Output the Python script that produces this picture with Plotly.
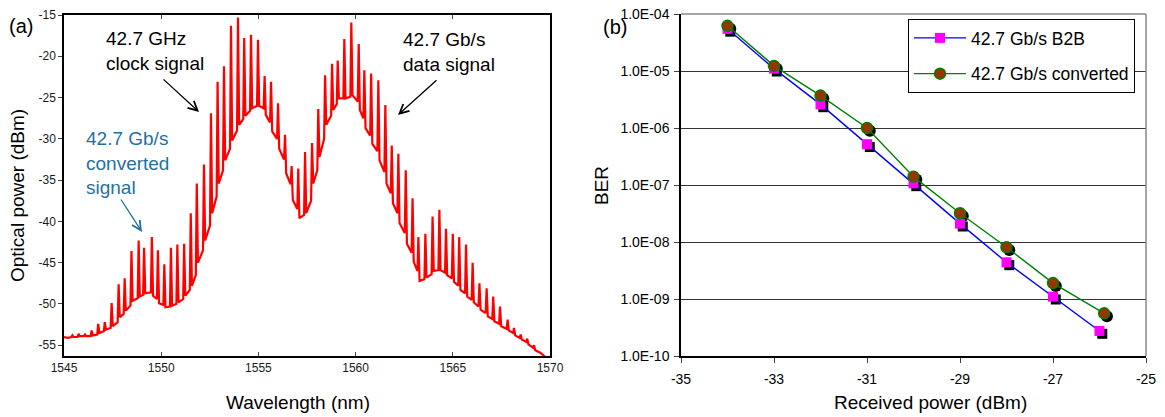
import plotly.graph_objects as go

# ---------------- (a) optical spectrum ----------------
# comb-line peaks
peak_wl = [1545.43, 1545.75, 1546.08, 1546.42, 1546.76, 1547.10, 1547.45, 1547.81, 1548.12, 1548.47,
           1548.84, 1549.12, 1549.52, 1549.83, 1550.16, 1550.50, 1550.83, 1551.18, 1551.52, 1551.83,
           1552.20, 1552.56, 1552.90, 1553.23, 1553.59, 1553.95, 1554.27, 1554.62, 1554.98, 1555.32,
           1555.65, 1556.01, 1556.37, 1556.71, 1557.05, 1557.40, 1557.76, 1558.08, 1558.43, 1558.79,
           1559.08, 1559.42, 1559.78, 1560.16, 1560.45, 1560.80, 1561.17, 1561.53, 1561.86, 1562.20,
           1562.58, 1562.93, 1563.23, 1563.59, 1563.96, 1564.31, 1564.65, 1565.00, 1565.33, 1565.68,
           1566.02, 1566.37, 1566.74, 1567.08, 1567.43, 1567.82, 1568.15, 1568.49, 1568.83, 1569.18]
peak_db = [-53.8, -53.6, -53.7, -53.2, -52.4, -52.2, -49.9, -47.6, -46.9, -43.6,
           -42.3, -43.2, -41.9, -43.5, -45.2, -43.2, -42.8, -42.7, -39.0, -35.4,
           -33.1, -26.9, -23.1, -21.2, -16.3, -15.3, -17.8, -17.4, -18.0, -22.4,
           -23.1, -25.7, -29.5, -33.3, -33.6, -31.6, -30.5, -26.4, -22.3, -20.9,
           -20.5, -17.9, -15.9, -18.5, -21.7, -22.1, -22.9, -25.9, -30.8, -31.8,
           -33.8, -37.2, -41.9, -41.5, -39.4, -38.6, -40.9, -41.5, -41.9, -42.8,
           -45.0, -47.5, -48.1, -49.1, -50.3, -51.9, -52.9, -53.7, -54.2, -55.0]
# level at the foot just before each peak
foot_db = [-54.0, -54.0, -53.9, -53.9, -53.7, -53.3, -52.9, -52.2, -51.2, -50.2,
           -49.3, -48.9, -48.6, -49.4, -50.1, -50.3, -50.0, -49.4, -48.3, -46.5,
           -43.5, -40.5, -37.0, -33.8, -31.2, -29.0, -27.6, -26.6, -26.0, -26.3,
           -28.0, -30.0, -32.5, -35.5, -38.5, -39.2, -37.5, -33.8, -30.0, -27.2,
           -25.8, -25.1, -24.9, -25.5, -27.5, -29.6, -31.5, -34.0, -36.6, -39.0,
           -41.4, -43.8, -46.0, -47.0, -46.4, -45.9, -46.2, -46.9, -47.8, -48.7,
           -49.5, -50.3, -51.1, -51.8, -52.4, -53.0, -53.5, -54.1, -54.6, -55.3]
# level just after each peak
after_db = [-54.0, -53.9, -53.9, -53.8, -53.5, -53.1, -52.7, -51.6, -50.8, -49.6,
            -49.1, -48.7, -49.0, -49.9, -50.4, -50.2, -49.8, -49.0, -47.8, -45.0,
            -42.3, -39.0, -35.4, -32.6, -30.2, -28.3, -27.2, -26.3, -26.0, -27.1,
            -29.1, -31.2, -34.2, -37.4, -39.6, -39.0, -35.4, -32.2, -28.3, -26.5,
            -25.1, -25.1, -24.7, -26.5, -28.7, -30.6, -32.6, -35.4, -37.8, -40.2,
            -42.7, -44.9, -47.2, -46.8, -46.0, -45.9, -46.5, -47.3, -48.3, -49.1,
            -49.8, -50.7, -51.5, -52.1, -52.7, -53.2, -53.8, -54.3, -54.9, -55.6]
start_wl = [1545.0, 1545.2]
start_db = [-54.0, -54.1]
end_wl = [1569.5, 1569.75, 1570.0]
end_db = [-55.9, -56.4, -56.7]

x_ticks_a = [1545, 1550, 1555, 1560, 1565, 1570]
y_ticks_a = [-55, -50, -45, -40, -35, -30, -25, -20, -15]
y_ticktext_a = ["-55", "-50", "-45", "-40", "-35", "-30", "-25", "-20", "-15"]

# ---------------- (b) BER curves ----------------
rx_b2b = [-34, -33, -32, -31, -30, -29, -28, -27, -26]
ber_b2b = [5.5e-5, 1.1e-5, 2.6e-6, 5.2e-7, 1.07e-7, 2.1e-8, 4.4e-9, 1.1e-9, 2.75e-10]
rx_conv = [-34, -33, -32, -31, -30, -29, -28, -27, -25.9]
ber_conv = [6.2e-5, 1.23e-5, 3.7e-6, 1.0e-6, 1.4e-7, 3.2e-8, 8.1e-9, 1.9e-9, 5.6e-10]
ber_tickvals = [1e-10, 1e-9, 1e-8, 1e-7, 1e-6, 1e-5, 1e-4]
ber_ticktext = ["1.0E-10", "1.0E-09", "1.0E-08", "1.0E-07", "1.0E-06", "1.0E-05", "1.0E-04"]
rx_ticks = [-35, -33, -31, -29, -27, -25]
rx_ticktext = ["-35", "-33", "-31", "-29", "-27", "-25"]

W, H = 1165, 417
FONT = "Arial, Liberation Sans, sans-serif"

# build spectrum polyline (foot -> peak -> after, per comb line)
spec_wl = list(start_wl)
spec_db = list(start_db)
for pw, pdb, fdb, adb in zip(peak_wl, peak_db, foot_db, after_db):
    spec_wl += [pw - 0.05, pw, pw + 0.06]
    spec_db += [fdb, pdb, adb]
spec_wl += end_wl
spec_db += end_db

fig = go.Figure()
fig.add_trace(go.Scatter(x=spec_wl, y=spec_db, mode="lines",
                         line=dict(color="#FF0000", width=2.2), showlegend=False,
                         xaxis="x", yaxis="y"))

# marker shadows (offset slightly right / down)
fig.add_trace(go.Scatter(x=[v + 0.06 for v in rx_b2b], y=[v * 10 ** -0.05 for v in ber_b2b],
                         mode="markers", marker=dict(symbol="square", size=10, color="black"),
                         showlegend=False, xaxis="x2", yaxis="y2", hoverinfo="skip"))
fig.add_trace(go.Scatter(x=[v + 0.06 for v in rx_conv], y=[v * 10 ** -0.05 for v in ber_conv],
                         mode="markers", marker=dict(symbol="circle", size=12, color="black"),
                         showlegend=False, xaxis="x2", yaxis="y2", hoverinfo="skip"))
fig.add_trace(go.Scatter(x=rx_b2b, y=ber_b2b, mode="lines+markers", name="42.7 Gb/s B2B",
                         line=dict(color="#0000FF", width=1.4),
                         marker=dict(symbol="square", size=10, color="#FF00FF"),
                         legendgroup="a", xaxis="x2", yaxis="y2"))
fig.add_trace(go.Scatter(x=rx_conv, y=ber_conv, mode="lines+markers", name="42.7 Gb/s converted",
                         line=dict(color="#008000", width=1.4),
                         marker=dict(symbol="circle", size=11, color="#993300",
                                     line=dict(color="#008000", width=1.5)),
                         legendgroup="b", xaxis="x2", yaxis="y2"))

def px(x):
    return x / W

def py(y):
    return 1 - y / H

domA_x = [px(64), px(550)]
domB_x = [px(681), px(1146)]
dom_y = [py(356), py(15)]
domB_y = [py(356), py(14)]

ann = []
def text(t, x, y, size, color="black", angle=0, xanchor="center", align="center"):
    ann.append(dict(text=t, x=px(x), y=py(y), xref="paper", yref="paper", showarrow=False,
                    font=dict(family=FONT, size=size, color=color), textangle=angle,
                    xanchor=xanchor, yanchor="middle", align=align))

def arrow(hx, hy, tx, ty, color):
    ann.append(dict(text="", x=px(hx), y=py(hy), xref="paper", yref="paper",
                    ax=tx - hx, ay=ty - hy, axref="pixel", ayref="pixel", showarrow=True,
                    arrowhead=5, arrowsize=1.4, arrowwidth=1.3, arrowcolor=color))

text("(a)", 21, 26, 20)
text("(b)", 615, 27, 20)
text("42.7 GHz<br>clock signal", 104, 51, 19, xanchor="left", align="left")
text("42.7 Gb/s<br>data signal", 401, 52, 19, xanchor="left", align="left")
text("42.7 Gb/s<br>converted<br>signal", 84, 163, 19, color="#1F70A3", xanchor="left", align="left")
arrow(199, 112, 162, 78, "black")
arrow(398, 115, 438, 79, "black")
arrow(142, 232, 120, 198, "#1F70A3")
text("Optical power (dBm)", 18, 196, 19, angle=-90)
text("Wavelength (nm)", 298, 402, 19)
text("BER", 601, 186, 19, angle=-90)
text("Received power (dBm)", 930, 402, 19)

tickfontA = dict(family=FONT, size=12, color="#1a1a1a")
tickfontB = dict(family=FONT, size=14, color="black")

fig.update_layout(
    width=W, height=H, margin=dict(l=0, r=0, t=0, b=0, autoexpand=False),
    paper_bgcolor="white", plot_bgcolor="white",
    font=dict(family=FONT),
    xaxis=dict(domain=domA_x, range=[1545, 1570], tickvals=x_ticks_a, ticks="inside", ticklen=4,
               showline=True, linecolor="black", linewidth=1.5, mirror="ticks", showgrid=False,
               zeroline=False, tickfont=tickfontA, anchor="y", automargin=False),
    yaxis=dict(domain=dom_y, range=[-56.3, -15], tickvals=y_ticks_a, ticktext=y_ticktext_a,
               ticks="outside", ticklen=4,
               showline=True, linecolor="black", linewidth=1.5, mirror=True, showgrid=False,
               zeroline=False, tickfont=tickfontA, anchor="x", automargin=False),
    yaxis3=dict(overlaying="y", side="right", anchor="x", range=[-56.3, -15], tickvals=y_ticks_a,
                ticks="inside", ticklen=4, showticklabels=False, showline=False, showgrid=False,
                zeroline=False, automargin=False),
    xaxis2=dict(domain=domB_x, range=[-35, -25], tickvals=rx_ticks, ticktext=rx_ticktext,
                ticks="outside", ticklen=5,
                showline=True, linecolor="black", linewidth=1.5, showgrid=False, zeroline=False,
                tickfont=tickfontB, anchor="y2", ticklabelstandoff=4, automargin=False),
    yaxis2=dict(domain=domB_y, type="log", range=[-10, -4], tickvals=ber_tickvals,
                ticktext=ber_ticktext, ticks="outside", ticklen=5, showline=True, linecolor="black",
                linewidth=1.5, showgrid=True, gridcolor="#333333", gridwidth=1, zeroline=False,
                tickfont=tickfontB, anchor="x2", automargin=False, ticklabelstandoff=2),
    legend=dict(x=px(908), y=py(19), xanchor="left", yanchor="top", bgcolor="white",
                bordercolor="black", borderwidth=1, font=dict(family=FONT, size=17.5, color="black"),
                tracegroupgap=10, traceorder="grouped", itemwidth=52),
    annotations=ann,
    shapes=[
        dict(type="line", xref="x2 domain", yref="y2 domain", x0=0, x1=1, y0=1, y1=1,
             line=dict(color="#888888", width=1.5)),
        dict(type="line", xref="x2 domain", yref="y2 domain", x0=1, x1=1, y0=0, y1=1,
             line=dict(color="#888888", width=1.5)),
    ],
)

fig.write_html("out.html", config={"displayModeBar": False},
               post_script="document.body.style.margin='0px';document.body.style.padding='0px';")
